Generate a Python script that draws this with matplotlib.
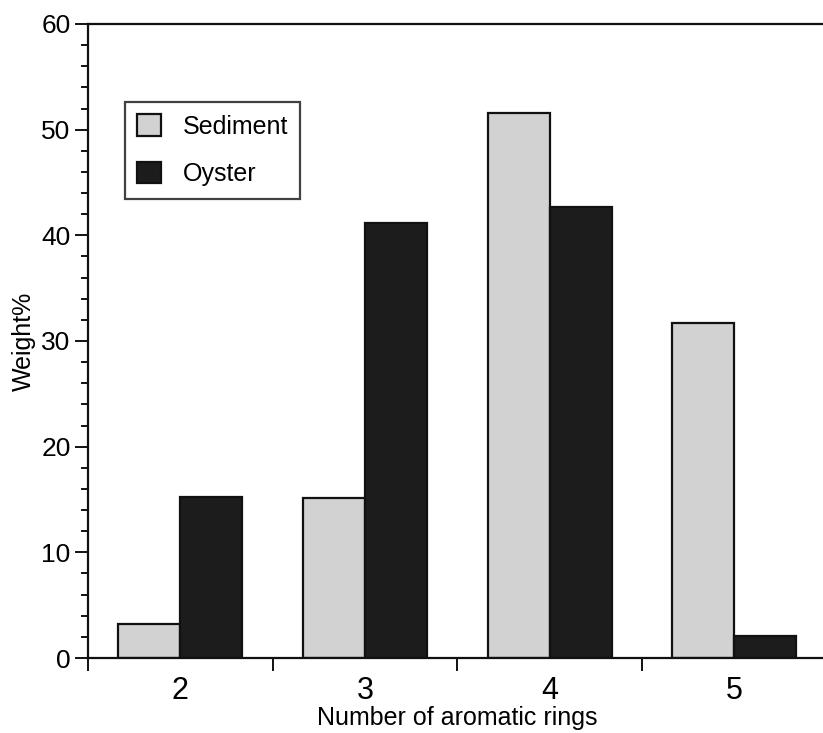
import matplotlib
matplotlib.use("Agg")
import matplotlib.pyplot as plt
import numpy as np
from matplotlib.ticker import MultipleLocator, FixedLocator

# Weight% of PAHs grouped by number of aromatic rings
rings = [2, 3, 4, 5]
sediment = [3.2, 15.1, 51.6, 31.7]
oyster = [15.2, 41.2, 42.7, 2.1]
series_labels = ["Sediment", "Oyster"]

plt.rcParams["font.family"] = ["Liberation Sans", "DejaVu Sans"]

fig = plt.figure(figsize=(8.23, 7.33), dpi=100)
ax = fig.add_axes([0.1069, 0.1023, 0.8977, 0.865])

x = np.array(rings, dtype=float)
w = 0.336
ax.bar(x - w / 2, sediment, width=w, color="#d2d2d2", edgecolor="#111111",
       linewidth=1.6, label=series_labels[0], zorder=2)
ax.bar(x + w / 2, oyster, width=w, color="#1c1c1c", edgecolor="#111111",
       linewidth=1.6, label=series_labels[1], zorder=2)

ax.set_xlim(1.5, 5.5)
ax.set_ylim(0, 60)

# y axis: major every 10, minor every 2
ax.yaxis.set_major_locator(MultipleLocator(10))
ax.yaxis.set_minor_locator(MultipleLocator(2))
ax.tick_params(axis="y", which="major", direction="out", length=9.5, width=1.3,
               labelsize=19, pad=3)
ax.tick_params(axis="y", which="minor", direction="out", length=5, width=1.3)

# x axis: labels at ring counts, tick marks between groups
ax.set_xticks(rings)
ax.set_xticklabels([str(r) for r in rings])
ax.xaxis.set_minor_locator(FixedLocator([1.5, 2.5, 3.5, 4.5, 5.5]))
ax.tick_params(axis="x", which="major", length=0, labelsize=22, pad=13)
ax.tick_params(axis="x", which="minor", direction="out", length=9, width=1.3)

for side in ("left", "top", "bottom"):
    ax.spines[side].set_linewidth(1.6)
    ax.spines[side].set_color("#111111")
ax.spines["right"].set_visible(False)

ax.set_xlabel("Number of aromatic rings", fontsize=18, labelpad=0)
ax.set_ylabel("Weight%", fontsize=18, labelpad=4)

leg = ax.legend(loc="upper left", bbox_to_anchor=(0.05, 0.877),
                borderaxespad=0, fontsize=18, frameon=True, fancybox=False,
                handlelength=0.95, handleheight=0.95, handletextpad=0.85,
                labelspacing=0.92, borderpad=0.5)
leg.get_frame().set_edgecolor("#111111")
leg.get_frame().set_linewidth(1.6)

fig.savefig("out.png", dpi=100)
